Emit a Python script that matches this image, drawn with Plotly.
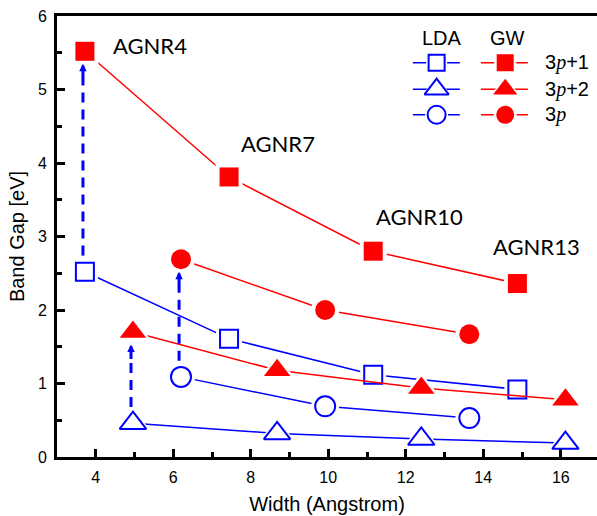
import plotly.graph_objects as go

# ---------------- data ----------------
# ribbon widths (Angstrom) for the three families
x_3p1 = [3.72, 7.44, 11.16, 14.88]
x_3p2 = [4.96, 8.68, 12.40, 16.12]
x_3p = [6.20, 9.92, 13.64]

# band gaps (eV)
lda_3p1 = [2.52, 1.61, 1.12, 0.92]
gw_3p1 = [5.52, 3.81, 2.80, 2.36]
lda_3p2 = [0.46, 0.32, 0.245, 0.19]
gw_3p2 = [1.70, 1.18, 0.94, 0.78]
lda_3p = [1.09, 0.69, 0.53]
gw_3p = [2.69, 2.00, 1.67]

ribbon_labels = ["AGNR4", "AGNR7", "AGNR10", "AGNR13"]
family_labels = ["3p+1", "3p+2", "3p"]
x_tickvals = [4, 6, 8, 10, 12, 14, 16]
y_tickvals = [0, 1, 2, 3, 4, 5, 6]

BLUE = "#0000ff"
RED = "#ff0000"
PX_PER_EV = 441 / 6.0

fig = go.Figure()


def add_series(lx, ly, mx, my, color, symbol, size, filled, halo, xa="x", ya="y"):
    common = dict(xaxis=xa, yaxis=ya, showlegend=False, hoverinfo="skip")
    fig.add_trace(go.Scatter(x=lx, y=ly, mode="lines",
                             line=dict(color=color, width=1.5), **common))
    fig.add_trace(go.Scatter(x=mx, y=my, mode="markers",
                             marker=dict(symbol=symbol, size=size + halo,
                                         color="white", line=dict(width=0)),
                             **common))
    fig.add_trace(go.Scatter(x=mx, y=my, mode="markers",
                             marker=dict(symbol=symbol, size=size,
                                         color=color if filled else "white",
                                         line=dict(color=color,
                                                   width=0 if filled else 2)),
                             **common))


series = [
    (x_3p1, lda_3p1, BLUE, "square", 18, False),
    (x_3p2, lda_3p2, BLUE, "triangle-up", 23, False),
    (x_3p, lda_3p, BLUE, "circle", 20, False),
    (x_3p1, gw_3p1, RED, "square", 19, True),
    (x_3p2, gw_3p2, RED, "triangle-up", 23, True),
    (x_3p, gw_3p, RED, "circle", 20, True),
]
for xs, ys, c, sym, sz, fill in series:
    add_series(xs, ys, xs, ys, c, sym, sz, fill, halo=8)

# dashed arrows LDA -> GW for the first ribbon of each family
annotations = []
for xs, lda, gw in [(x_3p1, lda_3p1, gw_3p1), (x_3p2, lda_3p2, gw_3p2), (x_3p, lda_3p, gw_3p)]:
    xa = xs[0] - 0.05
    tip = gw[0] - 0.17
    start = lda[0] + 0.22
    fig.add_trace(go.Scatter(x=[xa, xa], y=[start, tip - 14 / PX_PER_EV], mode="lines",
                             line=dict(color=BLUE, width=3, dash="10px,7px"),
                             showlegend=False, hoverinfo="skip"))
    annotations.append(dict(x=xa, y=tip, xref="x", yref="y", ax=0, ay=16,
                            text="", showarrow=True, arrowhead=2, arrowsize=0.5,
                            arrowwidth=3, arrowcolor=BLUE, standoff=0))

# ribbon labels near GW 3p+1 points
label_offsets = [(1.67, 0.08), (1.26, 0.45), (1.20, 0.47), (0.50, 0.51)]
for name, xv, yv, (dx, dy) in zip(ribbon_labels, x_3p1, gw_3p1, label_offsets):
    annotations.append(dict(x=xv + dx, y=yv + dy, xref="x", yref="y", text=name,
                            showarrow=False,
                            font=dict(family="Lato", size=22, color="black")))

# ---------------- custom legend (overlay axes in plot fractions) ----------------
leg_rows = [0.894, 0.834, 0.776]
lda_sym = [("square", 16), ("triangle-up", 21), ("circle", 18)]
gw_sym = [("square", 17), ("triangle-up", 21), ("circle", 18)]
for row, (ls, lsz), (gs, gsz) in zip(leg_rows, lda_sym, gw_sym):
    add_series([0.659, 0.746], [row, row], [0.703], [row], BLUE, ls, lsz, False,
               halo=5, xa="x2", ya="y2")
    add_series([0.785, 0.872], [row, row], [0.830], [row], RED, gs, gsz, True,
               halo=5, xa="x2", ya="y2")

for row, lab in zip(leg_rows, family_labels):
    txt = lab.replace("p", '<span style="font-family:Liberation Serif"><i>p</i></span>')
    annotations.append(dict(x=0.9, y=row, xref="paper", yref="paper", text=txt,
                            xanchor="left", yanchor="middle", showarrow=False,
                            font=dict(family="Liberation Sans, Arial", size=20, color="black")))
for xh, txt in [(0.713, "LDA"), (0.835, "GW")]:
    annotations.append(dict(x=xh, y=0.950, xref="paper", yref="paper", text=txt,
                            xanchor="center", yanchor="middle", showarrow=False,
                            font=dict(family="Liberation Sans, Arial", size=20, color="black")))

axis_font = dict(family="Liberation Sans, Arial", size=16, color="black")
title_font = dict(family="Liberation Sans, Arial", size=20, color="black")
fig.update_layout(
    width=597, height=516,
    margin=dict(l=57, r=0, t=16, b=59),
    paper_bgcolor="white", plot_bgcolor="white",
    showlegend=False,
    annotations=annotations,
    xaxis=dict(range=[3, 16.935], tickvals=x_tickvals, ticks="inside", ticklen=8,
               tickwidth=2.5, tickcolor="black", showline=True, linewidth=3,
               linecolor="black", mirror=True, showgrid=False, zeroline=False,
               tickfont=axis_font, ticklabelstandoff=4, automargin=False,
               minor=dict(dtick=1, tick0=0, ticks="inside", ticklen=5, tickwidth=2.5,
                          tickcolor="black", showgrid=False),
               title=dict(text="Width (Angstrom)", standoff=12, font=title_font)),
    yaxis=dict(range=[0, 6], tickvals=y_tickvals, ticks="inside", ticklen=8,
               tickwidth=2.5, tickcolor="black", showline=True, linewidth=3,
               linecolor="black", mirror=False, showgrid=False, zeroline=False,
               tickfont=axis_font, ticklabelstandoff=4, automargin=False,
               minor=dict(dtick=0.5, tick0=0, ticks="inside", ticklen=5, tickwidth=2.5,
                          tickcolor="black", showgrid=False),
               title=dict(text="Band Gap [eV]", standoff=8, font=title_font)),
    xaxis2=dict(overlaying="x", range=[0, 1], visible=False, anchor="y2"),
    yaxis2=dict(overlaying="y", range=[0, 1], visible=False, anchor="x2"),
)

fig.write_html("out.html", config={"displayModeBar": False},
               post_script="document.body.style.margin='0';document.body.style.padding='0';")
